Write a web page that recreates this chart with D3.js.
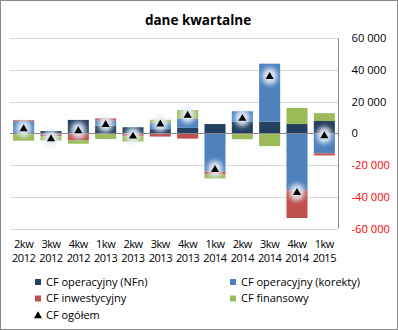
<!DOCTYPE html>
<html><head><meta charset="utf-8">
<script src="https://cdn.jsdelivr.net/npm/d3@7"></script>
<style>
body{margin:0;background:#fff;}
text{font-family:"Open Sans",sans-serif;}
</style>
</head><body>
<svg id="c" width="398" height="330"></svg>
<script>
// ---- data ----
const quarters = ["2kw","3kw","4kw","1kw","2kw","3kw","4kw","1kw","2kw","3kw","4kw","1kw"];
const years    = ["2012","2012","2012","2013","2013","2013","2013","2014","2014","2014","2014","2015"];
const cfNFn     = [0, 1500, 8500, 5000, 3900, 2700, 3500, 5900, 7400, 7400, 5900, 7800];
const cfKorekty = [7700, -800, 0, 3000, 0, 3800, 5600, -24000, 6600, 36600, -35900, -12600];
const cfInwest  = [600, -1000, -4200, 1500, -1600, -2000, -3300, -1900, -600, -500, -17500, -1300];
const cfFinans  = [-4600, -2600, -2300, -3500, -3500, 2100, 5600, -2500, -3100, -7500, 10200, 5000];
const cfOgolem  = [3400, -2800, 2200, 6200, -1200, 6500, 12000, -22300, 10000, 36400, -36800, -900];
const yTicks    = [-60000, -40000, -20000, 0, 20000, 40000, 60000];

const seriesNames = ["CF operacyjny (NFn)", "CF operacyjny (korekty)", "CF inwestycyjny", "CF finansowy"];
const seriesColors = ["#243F60", "#4F81BD", "#C0504D", "#9BBB59"];
const keys = ["nfn", "kor", "inw", "fin"];

const categories = quarters.map((q, i) => q + " " + years[i]);
const rows = categories.map((c, i) => ({cat: c, nfn: cfNFn[i], kor: cfKorekty[i], inw: cfInwest[i], fin: cfFinans[i], tot: cfOgolem[i]}));

const svg = d3.select("#c");
const W = 398, H = 330;
const plot = {left: 10, right: 338, top: 38.3, bottom: 228.5};

svg.append("rect").attr("x", 0.5).attr("y", 0.5).attr("width", W - 1).attr("height", H - 1)
  .attr("fill", "#fff").attr("stroke", "#8a8a8a");

const defs = svg.append("defs");
defs.append("filter").attr("id", "glow").attr("x", "-100%").attr("y", "-100%").attr("width", "300%").attr("height", "300%")
  .append("feGaussianBlur").attr("stdDeviation", 2.6);

const x = d3.scaleBand().domain(categories).range([plot.left, plot.right]).paddingInner(0.23).paddingOuter(0.115);
const y = d3.scaleLinear().domain([-60000, 60000]).range([plot.bottom, plot.top]);

// gridlines
svg.append("g").selectAll("line").data(yTicks.filter(v => v !== 0)).join("line")
  .attr("x1", plot.left).attr("x2", plot.right)
  .attr("y1", d => Math.round(y(d)) + 0.5).attr("y2", d => Math.round(y(d)) + 0.5)
  .attr("stroke", "#d9d9d9").attr("stroke-width", 1);

// stacked bars
const stack = d3.stack().keys(keys).offset(d3.stackOffsetDiverging);
const stacked = stack(rows);
svg.append("g").selectAll("g").data(stacked).join("g")
  .attr("fill", (d, i) => seriesColors[i])
  .selectAll("rect").data(d => d).join("rect")
  .attr("x", d => x(d.data.cat))
  .attr("width", x.bandwidth())
  .attr("y", d => y(Math.max(d[0], d[1])))
  .attr("height", d => Math.abs(y(d[0]) - y(d[1])));

// zero axis line
svg.append("line").attr("x1", plot.left).attr("x2", plot.right)
  .attr("y1", Math.round(y(0)) + 0.5).attr("y2", Math.round(y(0)) + 0.5)
  .attr("stroke", "#868686");

// right axis
const loc = d3.formatLocale({decimal: ",", thousands: "\u00a0", grouping: [3], currency: ["", ""], minus: "-"});
const fmt = loc.format(",.0f");
const yAxis = d3.axisRight(y).tickValues(yTicks).tickSize(0).tickPadding(13).tickFormat(d => fmt(d).replace("\u00a0", " "));
const ga = svg.append("g").attr("transform", `translate(${plot.right + 0.5},0)`).call(yAxis);
ga.select(".domain").attr("stroke", "#868686").attr("d", `M0,${plot.top}V${plot.bottom}`);
ga.selectAll("text").attr("font-size", 11.2).attr("font-family", "Open Sans")
  .attr("fill", d => d < 0 ? "#FF0000" : "#000");

// x labels
const gx = svg.append("g");
gx.selectAll("text.q").data(rows).join("text").attr("class", "q")
  .attr("x", d => x(d.cat) + x.bandwidth() / 2).attr("y", 247.5)
  .attr("text-anchor", "middle").attr("font-size", 11).attr("letter-spacing", -0.45).text((d, i) => quarters[i]);
gx.selectAll("text.yr").data(rows).join("text").attr("class", "yr")
  .attr("x", d => x(d.cat) + x.bandwidth() / 2).attr("y", 261.5)
  .attr("text-anchor", "middle").attr("font-size", 11).attr("letter-spacing", -0.45).text((d, i) => years[i]);

// total markers with glow
const tri = d3.symbol().type(d3.symbolTriangle);
const gm = svg.append("g");
gm.selectAll("ellipse").data(rows).join("ellipse")
  .attr("cx", d => x(d.cat) + x.bandwidth() / 2).attr("cy", d => y(d.tot) + 0.5)
  .attr("rx", 7.5).attr("ry", 8.5)
  .attr("fill", "#e4eef9").attr("opacity", 0.95).attr("filter", "url(#glow)");
gm.selectAll("path").data(rows).join("path")
  .attr("transform", d => `translate(${x(d.cat) + x.bandwidth() / 2},${y(d.tot) + 1})`)
  .attr("d", tri.size(28)()).attr("fill", "#000");

// title
svg.append("text").attr("x", 198).attr("y", 25).attr("text-anchor", "middle")
  .attr("font-size", 13.5).attr("font-weight", "bold").text("dane kwartalne");

// legend
const legendItems = seriesNames.map((n, i) => ({name: n, color: seriesColors[i], col: i % 2, row: Math.floor(i / 2)}));
const colX = [35, 230], rowY = [282, 298.5, 315.5];
const gl = svg.append("g");
legendItems.forEach(it => {
  gl.append("rect").attr("x", colX[it.col]).attr("y", rowY[it.row] - 3).attr("width", 6).attr("height", 6).attr("fill", it.color);
  gl.append("text").attr("x", colX[it.col] + 11).attr("y", rowY[it.row]).attr("dy", "0.35em")
    .attr("font-size", 11).text(it.name);
});
gl.append("path").attr("transform", `translate(${colX[0] + 3},${rowY[2] + 0.5})`).attr("d", tri.size(28)()).attr("fill", "#000");
gl.append("text").attr("x", colX[0] + 11).attr("y", rowY[2]).attr("dy", "0.35em").attr("font-size", 11).text("CF ogółem");
</script>
</body></html>
